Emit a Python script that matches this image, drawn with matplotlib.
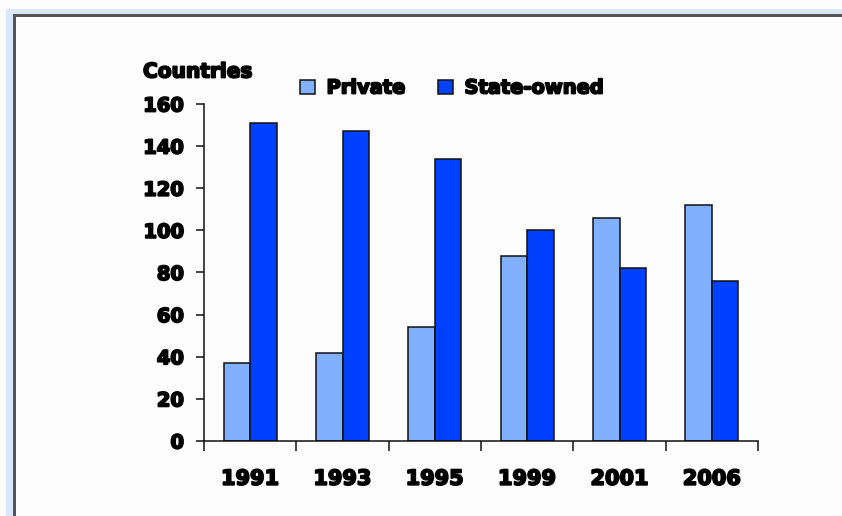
import matplotlib
matplotlib.use("Agg")
import matplotlib.pyplot as plt
import matplotlib.patheffects as pe
from matplotlib.patches import Rectangle
import numpy as np

years = ["1991", "1993", "1995", "1999", "2001", "2006"]
private = [37, 42, 54, 88, 106, 112]
state_owned = [151, 147, 134, 100, 82, 76]
y_ticks = [0, 20, 40, 60, 80, 100, 120, 140, 160]


def main():
    W, H = 842, 516
    fig = plt.figure(figsize=(W / 100, H / 100), dpi=100)
    fig.patch.set_facecolor("#fdfdfd")

    # window-like frame: light blue band with a dark line, top and left only
    fig.patches.append(Rectangle((6 / W, 0), 7 / W, 1 - 9 / H, transform=fig.transFigure,
                                 facecolor="#d9e8fa", edgecolor="none", zorder=0))
    fig.patches.append(Rectangle((6 / W, 1 - 14 / H), 1 - 6 / W, 5 / H, transform=fig.transFigure,
                                 facecolor="#d9e8fa", edgecolor="none", zorder=0))
    fig.patches.append(Rectangle((13 / W, 0), 2.5 / W, 1 - 14 / H, transform=fig.transFigure,
                                 facecolor="#555555", edgecolor="none", zorder=1))
    fig.patches.append(Rectangle((13 / W, 1 - 16.5 / H), 1 - 13 / W, 2.5 / H, transform=fig.transFigure,
                                 facecolor="#555555", edgecolor="none", zorder=1))

    left, right, bottom, top = 204, 758, 441, 104
    ax = fig.add_axes([left / W, 1 - bottom / H, (right - left) / W, (bottom - top) / H])
    ax.set_facecolor("none")

    x = np.arange(len(years))
    w = 0.287
    ax.bar(x - w / 2, private, width=w, color="#80b0ff", edgecolor="#111111", linewidth=1.1,
           label="Private")
    ax.bar(x + w / 2, state_owned, width=w, color="#0040ff", edgecolor="#111111", linewidth=1.1,
           label="State-owned")

    ax.set_xlim(-0.5, len(years) - 0.5)
    ax.set_ylim(0, 160)
    ax.set_yticks(y_ticks)
    ax.set_yticklabels([str(v) for v in y_ticks])
    ax.set_xticks(np.arange(len(years) + 1) - 0.5)
    ax.set_xticklabels([])
    ax.set_xticks(x, minor=True)
    ax.set_xticklabels(years, minor=True)

    for s in ["top", "right"]:
        ax.spines[s].set_visible(False)
    for s in ["left", "bottom"]:
        ax.spines[s].set_linewidth(1.1)
        ax.spines[s].set_color("#111111")

    heavy = [pe.withStroke(linewidth=1.3, foreground="black")]
    ax.tick_params(axis="y", direction="out", length=6, width=1.1, color="#111111", pad=8.5)
    ax.tick_params(axis="x", which="major", direction="out", length=7.5, width=1.1, color="#111111")
    ax.tick_params(axis="x", which="minor", length=0, pad=20)
    for lab in ax.get_yticklabels():
        lab.set_fontsize(14)
        lab.set_fontweight("bold")
        lab.set_path_effects(heavy)
    for lab in ax.get_xticklabels(minor=True):
        lab.set_fontsize(15)
        lab.set_fontweight("bold")
        lab.set_path_effects(heavy)

    fig.text(143 / W, 1 - 72 / H, "Countries", ha="left", va="center", fontsize=14.5,
             fontweight="bold", path_effects=heavy)

    leg = ax.legend(loc="center left", bbox_to_anchor=(290 / W, 1 - 88 / H), bbox_transform=fig.transFigure,
                    ncol=2, frameon=False, borderpad=0, handlelength=0.78, handleheight=0.72,
                    handletextpad=0.6, columnspacing=1.65, prop=dict(size=14, weight="bold"))
    for t in leg.get_texts():
        t.set_path_effects(heavy)

    fig.savefig("out.png", dpi=100, facecolor=fig.get_facecolor())


if __name__ == "__main__":
    main()
